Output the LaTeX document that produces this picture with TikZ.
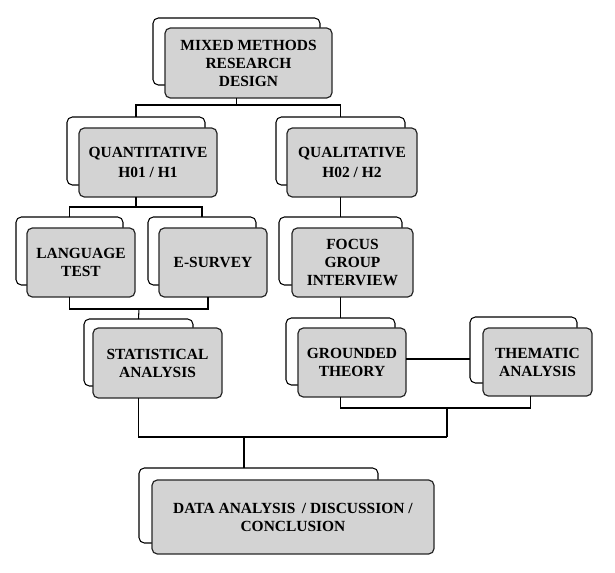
\documentclass[tikz,border=0pt]{standalone}
\usepackage{fontspec}
\setmainfont{Liberation Serif}
\usetikzlibrary{calc}
\definecolor{boxgray}{RGB}{211,211,211}
\tikzset{
  backbox/.style={draw=black, fill=white, line width=0.8pt, rounded corners=4pt, inner sep=0pt, outer sep=0pt},
  frontbox/.style={draw=black!85, fill=boxgray, line width=0.9pt, rounded corners=4pt, inner sep=0pt, outer sep=0pt,
    align=center, font=\fontsize{11.6}{13.5}\selectfont\bfseries},
  conn/.style={draw=black, line width=0.8pt}
}
\newcommand\mybox[6]{%
  \node[#6, minimum width={(#4-#2)*0.75pt}, minimum height={(#5-#3)*0.75pt}] (#1) at ({(#2+#4)/2},{(#3+#5)/2})}
\begin{document}
\begin{tikzpicture}[x=0.75pt,y=-0.75pt]
\useasboundingbox[fill=white] (0,0) rectangle (615,573);
% back boxes
\mybox{mmrb}{153}{18}{320}{85}{backbox} {};
\mybox{quantb}{67}{117}{205}{185}{backbox} {};
\mybox{qualb}{276}{117}{405}{185}{backbox} {};
\mybox{langb}{16}{217}{123}{285}{backbox} {};
\mybox{esurb}{148}{217}{256}{285}{backbox} {};
\mybox{focb}{279}{217}{402}{285}{backbox} {};
\mybox{statb}{84}{319}{193}{386}{backbox} {};
\mybox{grdb}{286}{318}{395}{385}{backbox} {};
\mybox{themb}{470}{317}{577}{383}{backbox} {};
\mybox{finb}{139}{468}{378}{543}{backbox} {};
% front boxes
\mybox{mmr}{165}{28}{332}{98}{frontbox} {MIXED METHODS\\RESEARCH\\DESIGN};
\mybox{quant}{79}{128}{217}{197}{frontbox} {QUANTITATIVE\\[2pt]H01 / H1};
\mybox{qual}{287}{128}{417}{197}{frontbox} {QUALITATIVE\\[2pt]H02 / H2};
\mybox{lang}{27}{228}{135}{297}{frontbox} {LANGUAGE\\TEST};
\mybox{esur}{159}{228}{267}{297}{frontbox} {E-SURVEY};
\mybox{foc}{292}{228}{413}{297}{frontbox} {FOCUS\\GROUP\\INTERVIEW};
\mybox{stat}{93}{328}{222}{398}{frontbox} {STATISTICAL\\ANALYSIS};
\mybox{grd}{298}{328}{406}{397}{frontbox} {GROUNDED\\THEORY};
\mybox{them}{483}{328}{592}{396}{frontbox} {THEMATIC\\ANALYSIS};
\mybox{fin}{152}{480}{434}{554}{frontbox} {DATA ANALYSIS\, / DISCUSSION /\\CONCLUSION};
% junction coordinates
\coordinate (j1) at (236.5,105);
\coordinate (j2) at (136,207);
\coordinate (j3) at (139,309);
\coordinate (j4) at (244,437);
\coordinate (j5) at (447,408);
\coordinate (ex) at ([xshift=4.5pt]esurb.center);
\coordinate (tx) at ($(themb.center)!0.5!(them.center)$);
% connectors
\draw[conn] (mmrb.center |- mmr.south) -- (j1);
\draw[conn] (quantb.north) -- (quantb.north |- j1) -- (qualb.north |- j1) -- (qualb.north);
\draw[conn] (quantb.center |- quant.south) -- (j2);
\draw[conn] (langb.north) -- (langb.north |- j2) -- (esurb.north |- j2) -- (esurb.north);
\draw[conn] (langb.center |- lang.south) -- (langb.center |- j3) -- (ex |- j3) -- (ex |- esur.south);
\draw[conn] (j3) -- (statb.north);
\draw[conn] (qualb.center |- qual.south) -- (focb.north);
\draw[conn] (focb.center |- foc.south) -- (grdb.north);
\draw[conn] (grd.east |- 0,359) -- (themb.west |- 0,359);
\draw[conn] (grdb.center |- grd.south) -- (grdb.center |- j5) -- (tx |- j5) -- (tx |- them.south);
\draw[conn] (j5) -- (j5 |- j4);
\draw[conn] (statb.center |- stat.south) -- (statb.center |- j4) -- (j5 |- j4);
\draw[conn] (j4) -- (j4 |- finb.north);
\end{tikzpicture}
\end{document}
